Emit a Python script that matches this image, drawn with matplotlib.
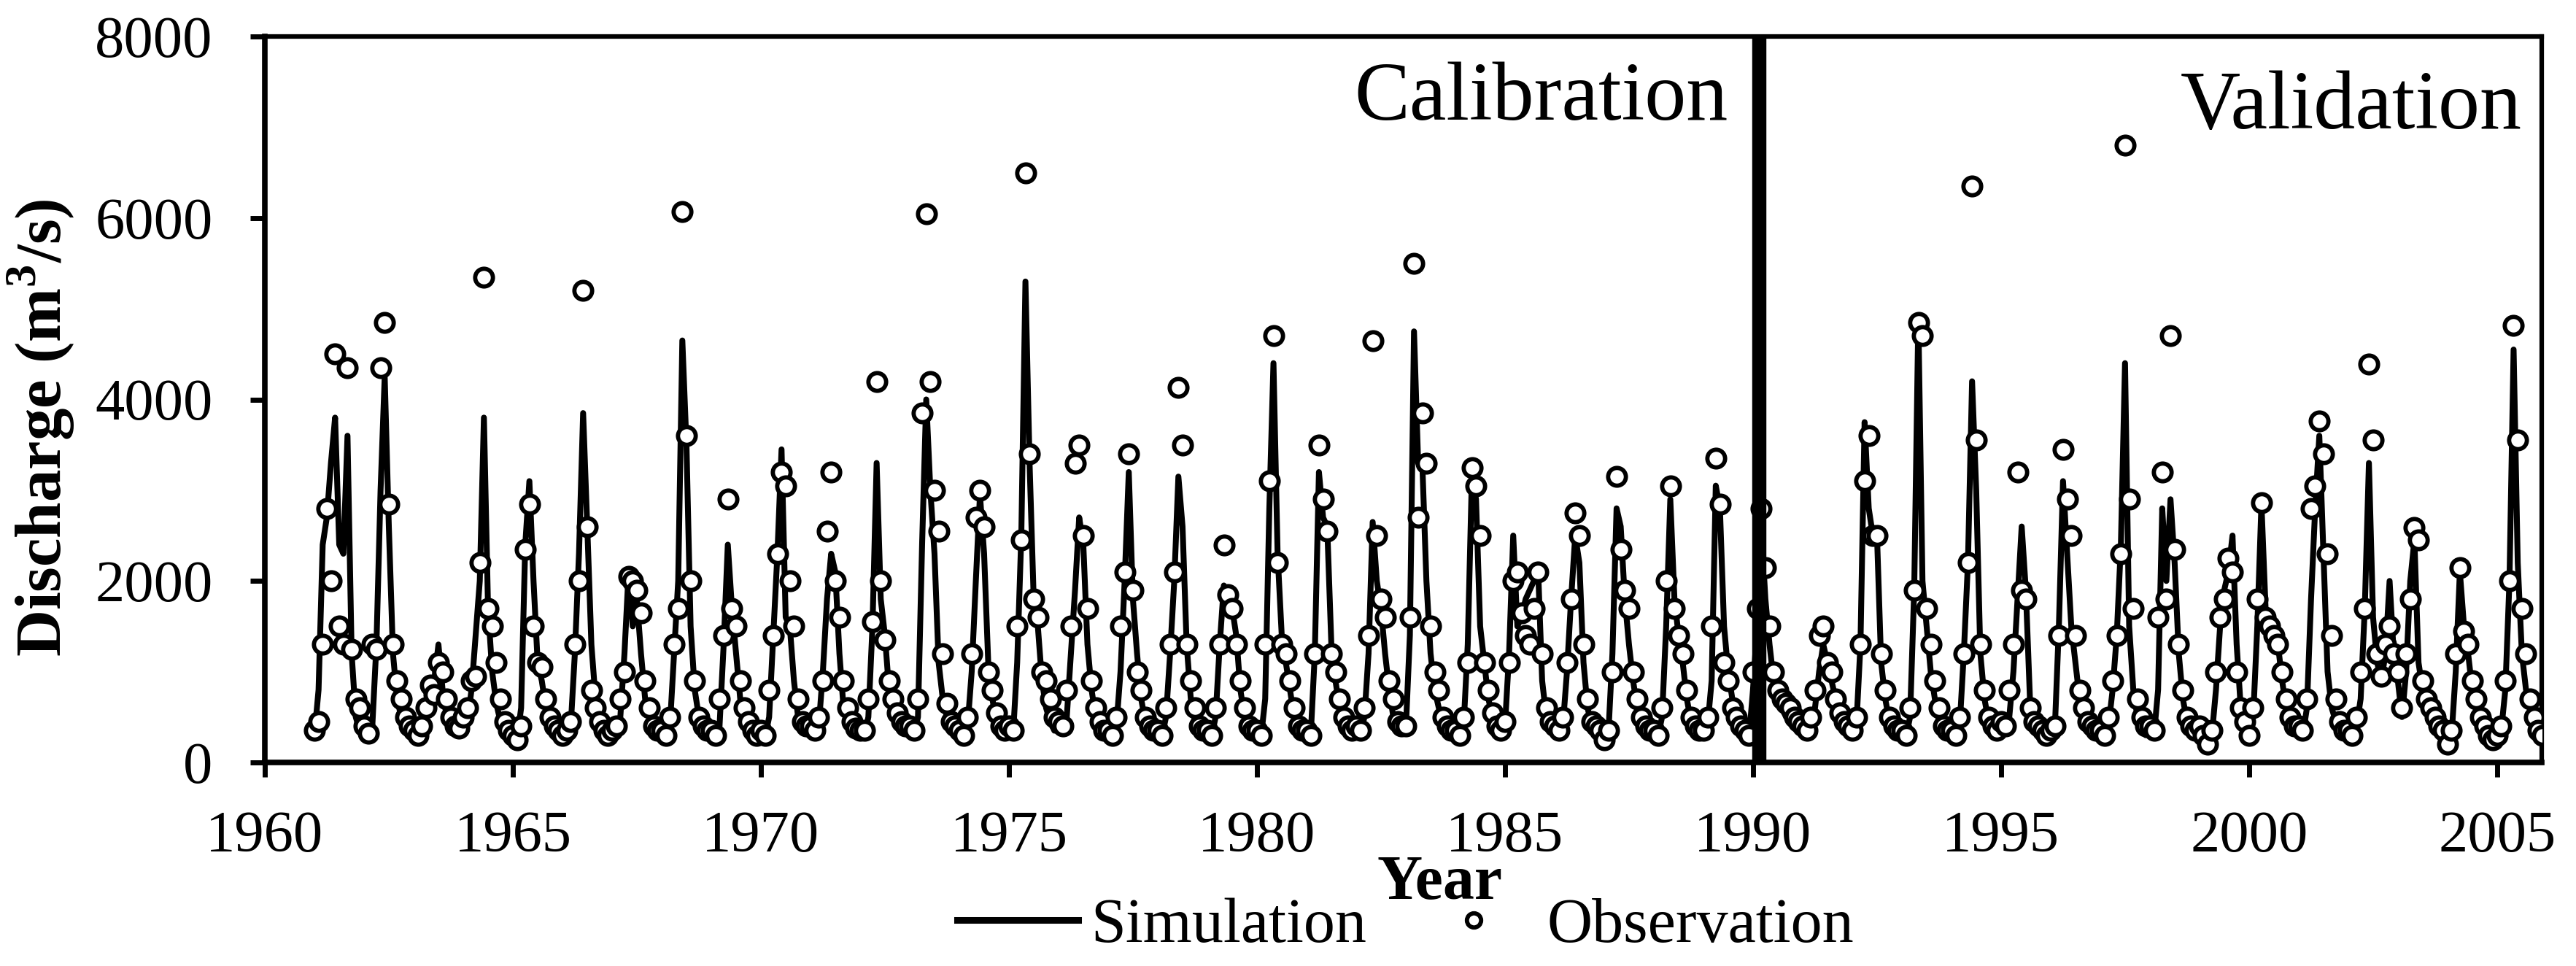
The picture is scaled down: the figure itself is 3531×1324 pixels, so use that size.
import numpy as np
import matplotlib
matplotlib.use("Agg")
import matplotlib.pyplot as plt
from matplotlib.lines import Line2D

# ---------------- data (monthly, Jan..Dec) ----------------
years = list(range(1961, 2006))

simulation = [
    [300, 800, 2400, 2700, 3300, 3800, 2400, 2300, 3600, 1200, 500, 350],    # 1961
    [350, 300, 400, 1300, 3000, 4250, 2600, 1200, 700, 500, 400, 350],      # 1962
    [300, 280, 350, 500, 700, 900, 1300, 800, 500, 400, 350, 300],          # 1963
    [400, 450, 800, 1400, 2000, 3800, 1700, 1000, 650, 450, 350, 300],      # 1964
    [300, 250, 600, 2400, 3100, 2000, 1100, 900, 600, 450, 350, 300],       # 1965
    [350, 300, 400, 1200, 2300, 3850, 2600, 1300, 700, 500, 400, 350],      # 1966
    [300, 300, 500, 1200, 2100, 1500, 1800, 1200, 700, 500, 400, 300],      # 1967
    [300, 250, 400, 1200, 2000, 4650, 3500, 1500, 800, 500, 400, 300],      # 1968
    [300, 280, 400, 1300, 2400, 1700, 1200, 700, 500, 400, 350, 300],       # 1969
    [300, 280, 500, 1400, 2300, 3450, 1600, 1500, 900, 500, 400, 350],      # 1970
    [350, 300, 400, 1000, 1800, 2300, 2100, 1200, 600, 450, 350, 300],      # 1971
    [300, 280, 500, 1500, 3300, 1800, 1400, 800, 600, 500, 400, 350],       # 1972
    [350, 300, 500, 2400, 4000, 3000, 2300, 1100, 700, 500, 400, 350],      # 1973
    [300, 280, 400, 1000, 2000, 2950, 2300, 1100, 700, 450, 350, 300],      # 1974
    [300, 300, 1100, 2500, 5300, 3300, 1800, 1500, 900, 600, 450, 350],     # 1975
    [400, 350, 500, 1200, 1900, 2700, 2400, 1300, 800, 500, 400, 350],      # 1976
    [300, 280, 400, 1000, 2000, 3200, 1800, 1200, 700, 450, 350, 300],      # 1977
    [300, 280, 500, 1200, 2000, 3150, 2600, 1300, 700, 450, 350, 300],      # 1978
    [300, 280, 500, 1300, 1950, 1800, 1700, 1400, 800, 500, 350, 300],      # 1979
    [300, 280, 700, 2800, 4400, 2300, 1400, 1100, 800, 500, 350, 300],      # 1980
    [300, 280, 1200, 3200, 2700, 2600, 1300, 900, 600, 450, 350, 300],      # 1981
    [350, 300, 500, 1200, 2650, 2000, 1700, 1200, 800, 500, 400, 350],      # 1982
    [350, 1400, 4750, 3300, 3300, 2000, 1200, 800, 600, 450, 350, 300],     # 1983
    [300, 280, 400, 1300, 3150, 2900, 1500, 1100, 700, 500, 350, 300],      # 1984
    [400, 1200, 2500, 1500, 1600, 1800, 1900, 2000, 2150, 900, 500, 400],   # 1985
    [350, 300, 400, 1000, 1800, 2500, 2200, 1100, 600, 400, 350, 300],      # 1986
    [200, 300, 1200, 2800, 2600, 1800, 1300, 900, 600, 450, 350, 300],      # 1987
    [300, 280, 500, 1500, 2900, 1800, 1400, 1100, 700, 450, 350, 300],      # 1988
    [300, 400, 900, 3050, 2800, 1500, 1000, 700, 500, 400, 300, 250],       # 1989
    [800, 1500, 2600, 1800, 1300, 900, 700, 600, 500, 450, 400, 380],       # 1990
    [350, 320, 400, 600, 1000, 1300, 1100, 900, 700, 500, 400, 350],        # 1991
    [300, 400, 1300, 3750, 2800, 2500, 2500, 1100, 700, 450, 350, 300],     # 1992
    [300, 280, 500, 1900, 4900, 2000, 1500, 1000, 700, 450, 350, 300],      # 1993
    [300, 280, 400, 1200, 2200, 4200, 3000, 1200, 700, 450, 350, 300],      # 1994
    [400, 350, 500, 1000, 1800, 2600, 1900, 700, 500, 400, 350, 300],       # 1995
    [300, 350, 1500, 3100, 2300, 1500, 1100, 700, 500, 400, 350, 300],      # 1996
    [300, 280, 400, 800, 1400, 2400, 4400, 1500, 800, 500, 400, 300],       # 1997
    [350, 300, 800, 2800, 2000, 2900, 2200, 1200, 700, 450, 350, 300],      # 1998
    [350, 300, 250, 300, 800, 1500, 1900, 2100, 2500, 1300, 600, 400],      # 1999
    [300, 500, 1500, 2850, 1700, 1500, 1400, 1300, 900, 600, 450, 350],     # 2000
    [350, 300, 600, 1800, 2800, 3600, 2300, 1000, 600, 450, 350, 300],      # 2001
    [300, 280, 400, 700, 1700, 3300, 1600, 1100, 900, 1200, 2000, 1200],    # 2002
    [900, 500, 1000, 2000, 2450, 1100, 800, 700, 500, 400, 350, 300],       # 2003
    [250, 300, 1000, 2100, 1500, 1200, 800, 600, 450, 350, 300, 250],       # 2004
    [300, 350, 800, 2000, 4550, 2200, 1200, 800, 600, 450, 350, 280],       # 2005
]

observation = [
    [350, 450, 1300, 2800, 2000, 4500, 1500, 1300, 4350, 1250, 700, 600],   # 1961
    [400, 320, 1300, 1250, 4350, 4850, 2850, 1300, 900, 700, 500, 400],     # 1962
    [350, 300, 400, 600, 850, 750, 1100, 1000, 700, 500, 400, 380],         # 1963
    [500, 600, 900, 950, 2200, 5350, 1700, 1500, 1100, 700, 450, 350],      # 1964
    [300, 250, 400, 2350, 2850, 1500, 1100, 1050, 700, 500, 400, 350],      # 1965
    [300, 350, 450, 1300, 2000, 5200, 2600, 800, 600, 450, 350, 300],       # 1966
    [350, 400, 700, 1000, 2050, 2000, 1900, 1650, 900, 600, 400, 350],      # 1967
    [350, 300, 500, 1300, 1700, 6070, 3600, 2000, 900, 500, 400, 350],      # 1968
    [350, 300, 700, 1400, 2900, 1700, 1500, 900, 600, 450, 350, 300],       # 1969
    [350, 300, 800, 1400, 2300, 3200, 3050, 2000, 1500, 700, 450, 400],     # 1970
    [400, 350, 500, 900, 2550, 3200, 2000, 1600, 900, 600, 450, 380],       # 1971
    [350, 350, 700, 1550, 4200, 2000, 1350, 900, 700, 550, 450, 400],       # 1972
    [400, 350, 700, 3850, 6050, 4200, 3000, 2550, 1200, 650, 450, 400],     # 1973
    [350, 300, 500, 1200, 2700, 3000, 2600, 1000, 800, 550, 400, 350],      # 1974
    [400, 350, 1500, 2450, 6500, 3400, 1800, 1600, 1000, 900, 700, 500],    # 1975
    [450, 400, 800, 1500, 3300, 3500, 2500, 1700, 900, 600, 450, 350],      # 1976
    [350, 300, 500, 1500, 2100, 3400, 1900, 1000, 800, 500, 400, 350],      # 1977
    [350, 300, 600, 1300, 2100, 4130, 3500, 1300, 900, 600, 400, 350],      # 1978
    [350, 300, 600, 1300, 2400, 1850, 1700, 1300, 900, 600, 400, 350],      # 1979
    [350, 300, 1300, 3100, 4700, 2200, 1300, 1200, 900, 600, 400, 350],     # 1980
    [350, 300, 1200, 3500, 2900, 2550, 1200, 1000, 700, 500, 400, 350],     # 1981
    [400, 350, 600, 1400, 4650, 2500, 1800, 1600, 900, 700, 450, 400],      # 1982
    [400, 1600, 5500, 2700, 3850, 3300, 1500, 1000, 800, 500, 400, 350],    # 1983
    [350, 300, 500, 1100, 3250, 3050, 2500, 1100, 800, 550, 400, 350],      # 1984
    [450, 1100, 2000, 2100, 1650, 1400, 1300, 1700, 2100, 1200, 600, 450],  # 1985
    [400, 350, 500, 1100, 1800, 2750, 2500, 1300, 700, 450, 400, 350],      # 1986
    [250, 350, 1000, 3150, 2350, 1900, 1700, 1000, 700, 500, 400, 350],     # 1987
    [350, 300, 600, 2000, 3050, 1700, 1400, 1200, 800, 500, 400, 350],      # 1988
    [350, 500, 1500, 3350, 2850, 1100, 900, 600, 500, 400, 350, 300],       # 1989
    [1000, 1700, 2800, 2150, 1500, 1000, 800, 700, 650, 600, 500, 450],     # 1990
    [400, 350, 500, 800, 1400, 1500, 1100, 1000, 700, 550, 450, 400],       # 1991
    [350, 500, 1300, 3100, 3600, 2500, 2500, 1200, 800, 500, 400, 350],     # 1992
    [350, 300, 600, 1900, 4850, 4700, 1700, 1300, 900, 600, 400, 350],      # 1993
    [350, 300, 500, 1200, 2200, 6350, 3550, 1300, 800, 500, 400, 350],      # 1994
    [450, 400, 800, 1300, 3200, 1900, 1800, 600, 450, 400, 350, 300],       # 1995
    [350, 400, 1400, 3450, 2900, 2500, 1400, 800, 600, 450, 400, 350],      # 1996
    [350, 300, 500, 900, 1400, 2300, 6800, 2900, 1700, 700, 500, 400],      # 1997
    [400, 350, 1600, 3200, 1800, 4700, 2350, 1300, 800, 500, 400, 350],     # 1998
    [400, 300, 200, 350, 1000, 1600, 1800, 2250, 2100, 1000, 600, 450],     # 1999
    [300, 600, 1800, 2860, 1600, 1500, 1400, 1300, 1000, 700, 500, 400],    # 2000
    [400, 350, 700, 2800, 3050, 3760, 3400, 2300, 1400, 700, 450, 350],     # 2001
    [350, 300, 500, 1000, 1700, 4390, 3550, 1200, 950, 1300, 1500, 1200],   # 2002
    [1000, 600, 1200, 1800, 2590, 2450, 900, 700, 600, 500, 400, 350],      # 2003
    [200, 350, 1200, 2150, 1450, 1300, 900, 700, 500, 400, 300, 250],       # 2004
    [300, 400, 900, 2000, 4820, 3550, 1700, 1200, 700, 500, 350, 300],      # 2005
]

x_ticks = [1960, 1965, 1970, 1975, 1980, 1985, 1990, 1995, 2000, 2005]
y_ticks = [0, 2000, 4000, 6000, 8000]
split_year = 1990.12
period_labels = ["Calibration", "Validation"]
series_labels = ["Simulation", "Observation"]

# ---------------- build time axis ----------------
yr = np.repeat(np.array(years, dtype=float), 12)
mo = np.tile(np.arange(12), len(years))
t = yr + mo / 12.0
sim = np.concatenate([np.array(v, dtype=float) for v in simulation])
obs = np.concatenate([np.array(v, dtype=float) for v in observation])

# ---------------- figure ----------------
plt.rcParams['font.family'] = ['Liberation Serif', 'DejaVu Serif']
plt.rcParams['mathtext.fontset'] = 'custom'
plt.rcParams['mathtext.rm'] = 'Liberation Serif:bold'
plt.rcParams['mathtext.bf'] = 'Liberation Serif:bold'

W, H = 3531, 1324
L, R, T, B = 363, 3484, 50, 1045
fig = plt.figure(figsize=(W / 100, H / 100), dpi=100)
ax = fig.add_axes([L / W, 1 - B / H, (R - L) / W, (B - T) / H])
aw, ah = R - L, B - T

ax.plot(t, sim, color='black', lw=5.8, solid_joinstyle='round', zorder=3)
ax.plot(t, obs, linestyle='none', marker='o', markersize=17.5,
        markerfacecolor='white', markeredgecolor='black', markeredgewidth=4.2,
        zorder=4)

ax.axvline(split_year, color='black', lw=14, zorder=5)

ax.set_xlim(1960, 2005.9)
ax.set_ylim(0, 8000)
ax.set_xticks(x_ticks)
ax.set_yticks(y_ticks)
ax.tick_params(axis='both', which='major', labelsize=58, direction='out',
               width=5, length=14.5, color='black')
ax.tick_params(axis='x', pad=33)
ax.tick_params(axis='y', pad=37)

for s in ['left', 'bottom']:
    ax.spines[s].set_linewidth(5.5)
for s in ['top', 'right']:
    ax.spines[s].set_linewidth(4.5)

ax.set_ylabel('Discharge (m$^{3}$/s)', fontsize=64, fontweight='bold')
ax.yaxis.set_label_coords((105 - L) / aw, (B - 586) / ah)
ax.set_xlabel('Year', fontsize=62, fontweight='bold')
ax.xaxis.set_label_coords((1973 - L) / aw, -(1172 - B) / ah)

ax.text((2369 - L) / aw, (B - 164) / ah, period_labels[0],
        transform=ax.transAxes, ha='right', va='baseline', fontsize=82, zorder=6)
ax.text((3457 - L) / aw, (B - 176) / ah, period_labels[1],
        transform=ax.transAxes, ha='right', va='baseline', fontsize=82, zorder=6)

handles = [
    Line2D([0], [0], color='black', lw=6.5),
    Line2D([0], [0], linestyle='none', marker='o', markersize=14,
           markerfacecolor='white', markeredgecolor='black', markeredgewidth=4.2),
]
fig.legend(handles, series_labels, loc='center left', ncol=2,
           bbox_to_anchor=(1312 / W, 1 - 1270 / H), frameon=False,
           fontsize=62, handlelength=1.93, handletextpad=0.2, columnspacing=0.74,
           borderpad=0, borderaxespad=0)

fig.savefig('out.png', dpi=100, facecolor='white')
